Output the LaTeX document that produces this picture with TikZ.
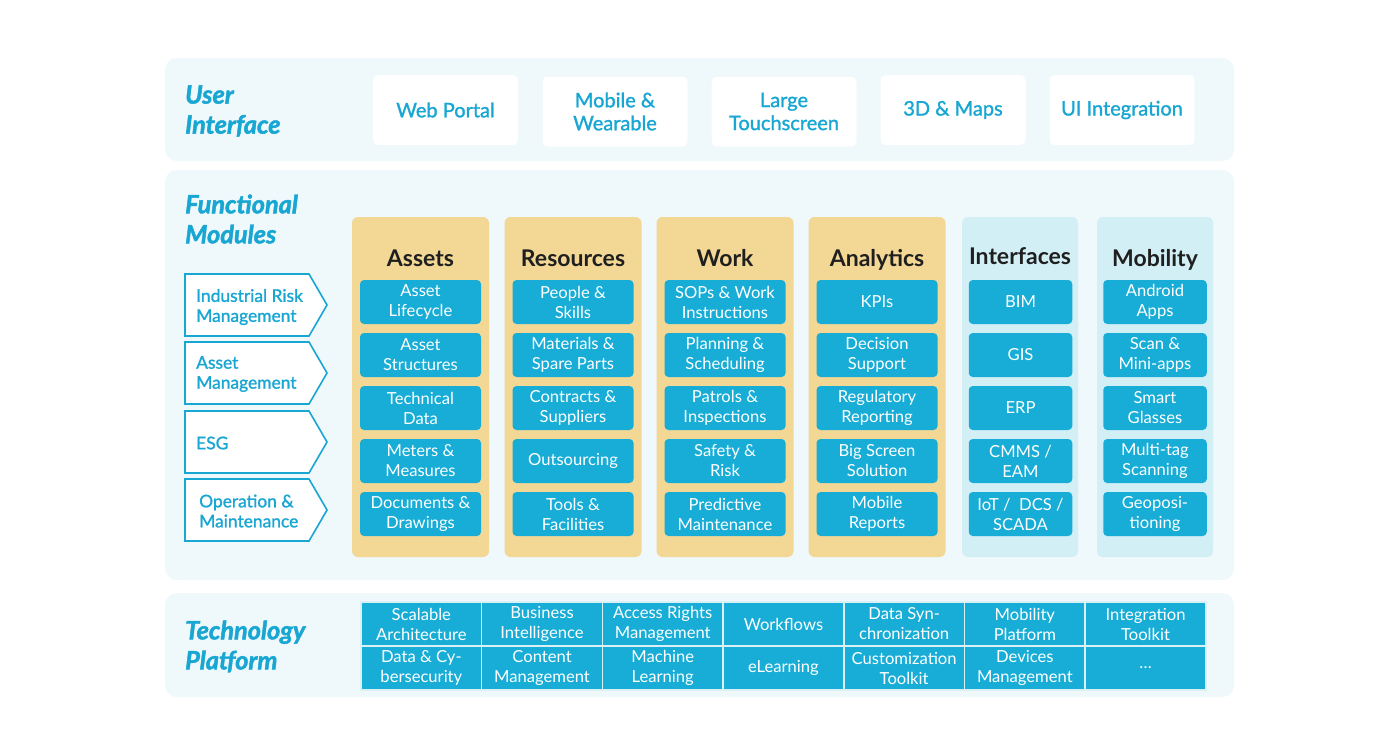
\documentclass[tikz,border=0pt]{standalone}
\usepackage{fontspec}
\setmainfont{Lato}
\newfontfamily\medfont{Lato}[RawFeature={embolden=1.3}]
\newfontfamily\headfont{Lato}[RawFeature={embolden=1.8}]
\definecolor{panelbg}{HTML}{EFF8FB}
\definecolor{tblue}{HTML}{18A6D3}
\definecolor{mblue}{HTML}{17ADD6}
\definecolor{yel}{HTML}{F2D795}
\definecolor{cyancol}{HTML}{D3EFF6}
\definecolor{darktxt}{HTML}{1F1F1F}
\definecolor{gridline}{HTML}{D9F0F7}
\tikzset{
  panel/.style={fill=panelbg, rounded corners=12pt, draw=none},
  uibox/.style={fill=white, rounded corners=5pt, minimum width=145pt, minimum height=70pt, text=tblue,
    font=\medfont\fontsize{20}{23}\selectfont, align=center, inner sep=0pt},
  yelcol/.style={fill=yel, rounded corners=6pt, minimum width=137pt, minimum height=340pt, inner sep=0pt},
  cyacol/.style={fill=cyancol, rounded corners=6pt, minimum width=116pt, minimum height=340pt, inner sep=0pt},
  modbox/.style={fill=mblue, rounded corners=4pt, text=white, font=\fontsize{16.6}{20}\selectfont,
    align=center, inner sep=0pt, minimum height=44pt},
  colhead/.style={font=\fontsize{23}{26}\selectfont\bfseries, text=darktxt, anchor=base, inner sep=0pt},
  heading/.style={font=\headfont\fontsize{25.3}{30}\selectfont\bfseries\itshape, text=tblue, align=left, anchor=west, inner sep=0pt},
  chevshape/.style={draw=tblue, fill=white, line width=1.6pt},
  chevtext/.style={font=\medfont\fontsize{17.4}{20}\selectfont, text=tblue, align=left, anchor=west, inner sep=0pt},
  techcell/.style={fill=mblue, draw=gridline, line width=1.5pt, minimum width=120.7pt, minimum height=44pt,
    text=white, font=\fontsize{16.6}{20}\selectfont, align=center, inner sep=0pt}
}
\begin{document}
\begin{tikzpicture}[x=1pt,y=-1pt]
\fill[white] (0,0) rectangle (1399,750);
\useasboundingbox (0,0) rectangle (1399,750);
% panels
\fill[panel] (165,58) rectangle (1234,161);
\fill[panel] (165,170) rectangle (1234,580);
\fill[panel] (165,593) rectangle (1234,697);
% headings
\node[heading] (hUI) at (185,111) {User\\Interface};
\node[heading] (hFM) at (185,219) {Functional\\Modules};
\node[heading] (hTP) at (185,646.5) {Technology\\Platform};
% UI boxes
\node[uibox] (ui1) at (445.5,110) {\raisebox{-1.5pt}{Web Portal}};
\node[uibox] (ui2) at (615,111.5) {Mobile \&\\Wearable};
\node[uibox] (ui3) at (784,111.5) {Large\\Touchscreen};
\node[uibox] (ui4) at (953,110) {\raisebox{-1.5pt}{3D \& Maps}};
\node[uibox] (ui5) at (1122,110) {\raisebox{-1.5pt}{UI Integration}};
% chevrons
\draw[chevshape] (185,274) -- ++(124,0) -- ++(18,31) -- ++(-18,31) -- ++(-124,0) -- cycle;
\draw[chevshape] (185,342) -- ++(124,0) -- ++(18,31) -- ++(-18,31) -- ++(-124,0) -- cycle;
\draw[chevshape] (185,411) -- ++(124,0) -- ++(18,31) -- ++(-18,31) -- ++(-124,0) -- cycle;
\draw[chevshape] (185,479) -- ++(124,0) -- ++(18,31) -- ++(-18,31) -- ++(-124,0) -- cycle;
\node[chevtext] (ch1) at (196,307) {Industrial Risk\\Management};
\node[chevtext] (ch2) at (196,374) {Asset\\Management};
\node[chevtext] (ch3) at (196,443) {ESG};
\node[chevtext] (ch4) at (199,511) {Operation \&\\Maintenance};
% module columns
\node[yelcol] (colA) at (420.5,387) {};
\node[yelcol] (colR) at (573,387) {};
\node[yelcol] (colW) at (725,387) {};
\node[yelcol] (colN) at (877,387) {};
\node[cyacol] (colI) at (1020,387) {};
\node[cyacol] (colM) at (1155,387) {};
\node[colhead] (hA) at (420.5,266) {Assets};
\node[colhead] (hR) at (573,266) {Resources};
\node[colhead] (hW) at (725,266) {Work};
\node[colhead] (hN) at (877,266) {Analytics};
\node[colhead] (hI) at (1020,264) {Interfaces};
\node[colhead] (hM) at (1155,266) {Mobility};
\foreach \txt [count=\i] in {{Asset\\Lifecycle},{Asset\\Structures},{Technical\\Data},{Meters \&\\Measures},{Documents \&\\Drawings}}
  \node[modbox, minimum width=121pt] (a\i) at (420.5,302+53*\i-53) {\txt};
\foreach \txt [count=\i] in {{People \&\\Skills},{Materials \&\\Spare Parts},{Contracts \&\\Suppliers},{Outsourcing},{Tools \&\\Facilities}}
  \node[modbox, minimum width=121pt] (r\i) at (573,302+53*\i-53) {\txt};
\foreach \txt [count=\i] in {{SOPs \& Work\\Instructions},{Planning \&\\Scheduling},{Patrols \&\\Inspections},{Safety \&\\Risk},{Predictive\\Maintenance}}
  \node[modbox, minimum width=121pt] (w\i) at (725,302+53*\i-53) {\txt};
\foreach \txt [count=\i] in {{KPIs},{Decision\\Support},{Regulatory\\Reporting},{Big Screen\\Solution},{Mobile\\Reports}}
  \node[modbox, minimum width=121pt] (n\i) at (877,302+53*\i-53) {\txt};
\foreach \txt [count=\i] in {{BIM},{GIS},{ERP},{CMMS /\\EAM},{IoT /\ \ DCS /\\SCADA}}
  \node[modbox, minimum width=103.5pt] (i\i) at (1020.5,302+53*\i-53) {\txt};
\foreach \txt [count=\i] in {{Android\\Apps},{Scan \&\\Mini-apps},{Smart\\Glasses},{Multi-tag\\Scanning},{Geoposi-\\tioning}}
  \node[modbox, minimum width=103.5pt] (m\i) at (1155,302+53*\i-53) {\txt};
% technology grid
\foreach \txt [count=\i] in {{Scalable\\Architecture},{Business\\Intelligence},{Access Rights\\Management},{Workflows},{Data Syn-\\chronization},{Mobility\\Platform},{Integration\\Toolkit}}
  \node[techcell] (t\i) at (361+120.7*\i-60.35,624) {\txt};
\foreach \txt [count=\i] in {{Data \& Cy-\\bersecurity},{Content\\Management},{Machine\\Learning},{eLearning},{Customization\\Toolkit},{Devices\\Management}}
  \node[techcell] (u\i) at (361+120.7*\i-60.35,668) {\txt};
\node[techcell] (u7) at (1145.55,668) {\ldots};
\end{tikzpicture}
\end{document}
